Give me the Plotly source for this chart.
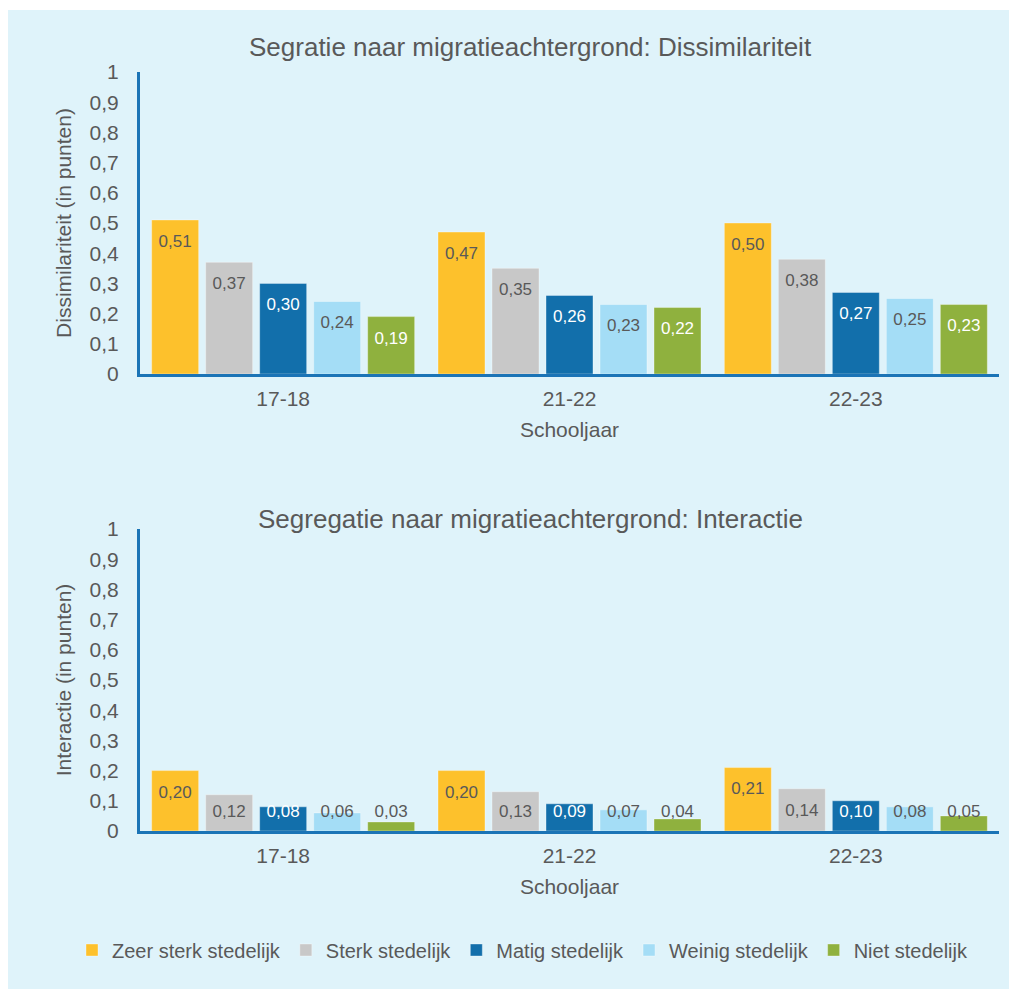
import plotly.graph_objects as go

# Data
schooljaren = ["17-18", "21-22", "22-23"]
reeksen = ["Zeer sterk stedelijk", "Sterk stedelijk", "Matig stedelijk",
           "Weinig stedelijk", "Niet stedelijk"]

dissimilariteit = [
    [0.51, 0.47, 0.50],
    [0.37, 0.35, 0.38],
    [0.30, 0.26, 0.27],
    [0.24, 0.23, 0.25],
    [0.19, 0.22, 0.23],
]
interactie = [
    [0.20, 0.20, 0.21],
    [0.12, 0.13, 0.14],
    [0.08, 0.09, 0.10],
    [0.06, 0.07, 0.08],
    [0.03, 0.04, 0.05],
]

y_ticks = [0, 0.1, 0.2, 0.3, 0.4, 0.5, 0.6, 0.7, 0.8, 0.9, 1]

COLORS = ["#FDC12C", "#C8C8C8", "#126FAB", "#A4DDF6", "#8FB13E"]
DARK = {2, 4}
TXT = "#595959"
AXIS = "#1B74B6"
BG = "#DFF3FA"
FONT = "Liberation Sans, Arial, sans-serif"

W, H = 1017, 989
OFF = 8                      # page body margin of the html page
L, R, B = 132, 26, 99        # plot area in figure pixels
PW, PH = W - L - R, H - B


def fx(px):
    """screen x (reference picture) -> paper x"""
    return (px - OFF - L) / PW


def fy(py):
    """screen y (reference picture) -> paper y"""
    return (PH - (py - OFF)) / PH


def fmt(v):
    return f"{v:.2f}".replace(".", ",")


fig = go.Figure()

panels = [("x", "y", dissimilariteit), ("x2", "y2", interactie)]
for p, (xa, ya, data) in enumerate(panels):
    for i, name in enumerate(reeksen):
        vals = data[i]
        fig.add_trace(go.Bar(
            x=schooljaren, y=vals, name=name, xaxis=xa, yaxis=ya,
            marker=dict(color=COLORS[i],
                        line=dict(width=1, color="rgba(255,255,255,0.35)")),
            offsetgroup=str(i), showlegend=(p == 0),
            hoverinfo="skip",
        ))
        # labels: inside the top of the bar, pushed up when the bar is short
        label_y = [max(v - 0.075, 0.06) for v in vals]
        label_col = ["white" if (i in DARK and v >= 0.08) else TXT for v in vals]
        fig.add_trace(go.Scatter(
            x=schooljaren, y=label_y, mode="text", xaxis=xa, yaxis=ya,
            text=[fmt(v) for v in vals], textposition="middle center",
            textfont=dict(size=17, color=label_col, family=FONT),
            offsetgroup=str(i), orientation="v", showlegend=False,
            hoverinfo="skip",
        ))

yaxis_common = dict(
    range=[0, 1], tickvals=y_ticks, showgrid=False, zeroline=False,
    showline=True, linecolor=AXIS, linewidth=3, ticks="",
    ticklabelstandoff=14, tickfont=dict(size=21, color=TXT, family=FONT),
    title_font=dict(size=21, color=TXT, family=FONT), title_standoff=13,
)
xaxis_common = dict(
    showgrid=False, zeroline=False, showline=True, linecolor=AXIS,
    linewidth=3, ticks="", ticklabelstandoff=4,
    tickfont=dict(size=21, color=TXT, family=FONT),
    title=dict(text="Schooljaar", font=dict(size=21, color=TXT, family=FONT),
               standoff=14),
)

title_font = dict(size=26, color=TXT, family=FONT)

fig.update_layout(
    width=W, height=H,
    margin=dict(l=L, r=R, t=0, b=B, autoexpand=False),
    paper_bgcolor=BG, plot_bgcolor="rgba(0,0,0,0)",
    separators=",.",
    barmode="group", bargap=0.057, bargroupgap=0.13,
    scattermode="group", scattergap=0.057,
    font=dict(family=FONT, color=TXT),
    xaxis=dict(domain=[0, 1], anchor="y", **xaxis_common),
    yaxis=dict(domain=[fy(374), fy(72)], anchor="x",
               title_text="Dissimilariteit (in punten)", **yaxis_common),
    xaxis2=dict(domain=[0, 1], anchor="y2", **xaxis_common),
    yaxis2=dict(domain=[fy(831), fy(529)], anchor="x2",
                title_text="Interactie (in punten)", **yaxis_common),
    legend=dict(orientation="h", x=fx(72), xanchor="left",
                y=fy(950), yanchor="middle", itemwidth=30,
                font=dict(size=20, color=TXT, family=FONT),
                bgcolor="rgba(0,0,0,0)"),
    # thin white strip above the light-blue panel
    shapes=[dict(type="rect", xref="paper", yref="paper",
                 x0=fx(0), x1=fx(1030), y0=fy(10), y1=fy(0),
                 fillcolor="white", line=dict(width=0), layer="below")],
    annotations=[
        dict(text="Segratie naar migratieachtergrond: Dissimilariteit",
             xref="paper", yref="paper", x=fx(530), y=fy(47),
             showarrow=False, xanchor="center", yanchor="middle",
             font=title_font),
        dict(text="Segregatie naar migratieachtergrond: Interactie",
             xref="paper", yref="paper", x=fx(530), y=fy(519),
             showarrow=False, xanchor="center", yanchor="middle",
             font=title_font),
    ],
)

fig.write_html("out.html", config={"displayModeBar": False})
